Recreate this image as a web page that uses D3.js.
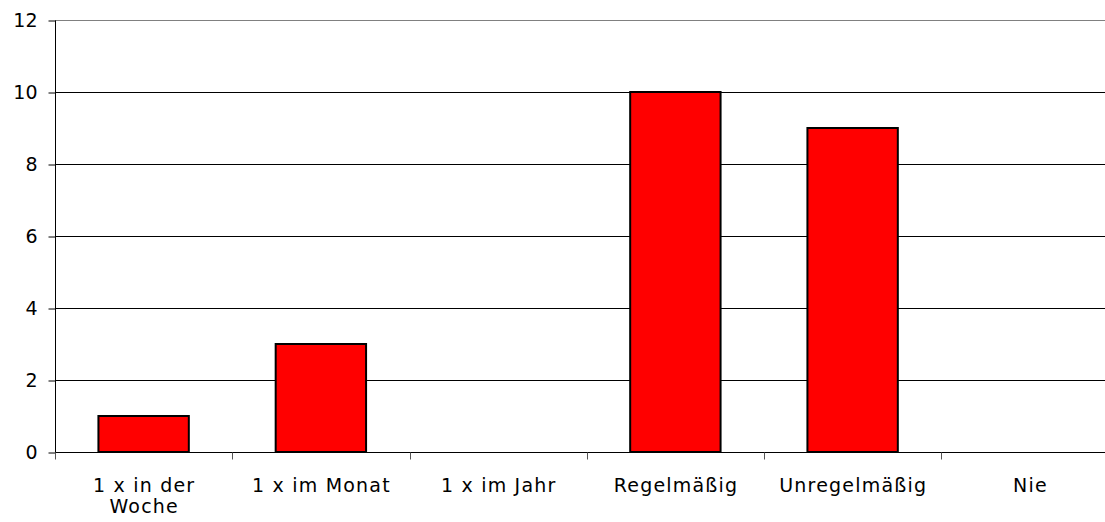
<!DOCTYPE html>
<html>
<head>
<meta charset="utf-8">
<script src="https://cdn.jsdelivr.net/npm/d3@7"></script>
<style>
  html, body { margin: 0; padding: 0; background: #fff; overflow: hidden; }
  svg { display: block; }
  text { font-family: "DejaVu Sans", Verdana, sans-serif; fill: #000; }
</style>
</head>
<body>
<svg id="chart" width="1105" height="522"></svg>
<script>
const categories = ["1 x in der Woche", "1 x im Monat", "1 x im Jahr", "Regelmäßig", "Unregelmäßig", "Nie"];
const values = [1, 3, 0, 10, 9, 0];
const yTicks = [0, 2, 4, 6, 8, 10, 12];

(function () {
const svg = d3.select("#chart");
const mLeft = 55, mTop = 20, mBottom = 452, mRight = 1118.5;
const fontSize = 19;
const ls = 1.2;

const x = d3.scaleBand().domain(categories).range([mLeft, mRight]).padding(0);
const y = d3.scaleLinear().domain([0, 12]).range([mBottom, mTop]);

// gridlines
svg.append("g").selectAll("line").data(yTicks.filter(t => t > 0)).join("line")
  .attr("x1", mLeft).attr("x2", mRight)
  .attr("y1", d => Math.round(y(d)) + 0.5).attr("y2", d => Math.round(y(d)) + 0.5)
  .attr("stroke", d => d === 12 ? "#808080" : "#000").attr("stroke-width", 1);

// bars
const barFrac = 0.51;
svg.append("g").selectAll("rect").data(categories.map((c, i) => ({c, v: values[i]})).filter(d => d.v > 0)).join("rect")
  .attr("x", d => x(d.c) + x.bandwidth() * (1 - barFrac) / 2)
  .attr("width", x.bandwidth() * barFrac)
  .attr("y", d => y(d.v))
  .attr("height", d => y(0) - y(d.v))
  .attr("fill", "#ff0000").attr("stroke", "#000").attr("stroke-width", 2);

// y axis
const yAxis = d3.axisLeft(y).tickValues(yTicks).tickSize(7).tickPadding(11);
const gy = svg.append("g").attr("transform", `translate(${mLeft + 0.5},0.5)`).call(yAxis);
gy.select(".domain").attr("stroke", "#000").attr("d", `M0,${mTop}V${mBottom}`);
gy.selectAll(".tick line").attr("stroke", "#000");
gy.selectAll(".tick text").style("font-size", fontSize + "px")
  .style("font-family", '"DejaVu Sans", Verdana, sans-serif').attr("fill", "#000");

// x axis
const gx = svg.append("g").attr("transform", `translate(0,${mBottom + 0.5})`);
gx.append("line").attr("x1", mLeft).attr("x2", mRight).attr("y1", 0).attr("y2", 0).attr("stroke", "#000");
const boundaries = categories.map(c => x(c)).concat([mRight]);
gx.selectAll("line.tk").data(boundaries).join("line").attr("class", "tk")
  .attr("x1", d => Math.round(d) + 0.5).attr("x2", d => Math.round(d) + 0.5)
  .attr("y1", 0).attr("y2", 7).attr("stroke", "#555");

// category labels with wrapping
const maxW = 150;
const measure = svg.append("text").style("font-size", fontSize + "px").style("letter-spacing", ls + "px").attr("visibility", "hidden");
function wrapLabel(label) {
  const words = label.split(" ");
  const lines = [];
  let cur = "";
  words.forEach(w => {
    const test = cur ? cur + " " + w : w;
    measure.text(test);
    if (measure.node().getComputedTextLength() > maxW && cur) { lines.push(cur); cur = w; }
    else cur = test;
  });
  if (cur) lines.push(cur);
  return lines;
}
categories.forEach(c => {
  const lines = wrapLabel(c);
  const cx = x(c) + x.bandwidth() / 2 + ls / 2;
  const t = svg.append("text").attr("text-anchor", "middle").style("font-size", fontSize + "px")
    .style("letter-spacing", ls + "px")
    .attr("x", cx).attr("y", 492);
  lines.forEach((ln, i) => t.append("tspan").attr("x", cx).attr("dy", i === 0 ? 0 : 21).text(ln));
});
measure.remove();
})();
</script>
</body>
</html>
